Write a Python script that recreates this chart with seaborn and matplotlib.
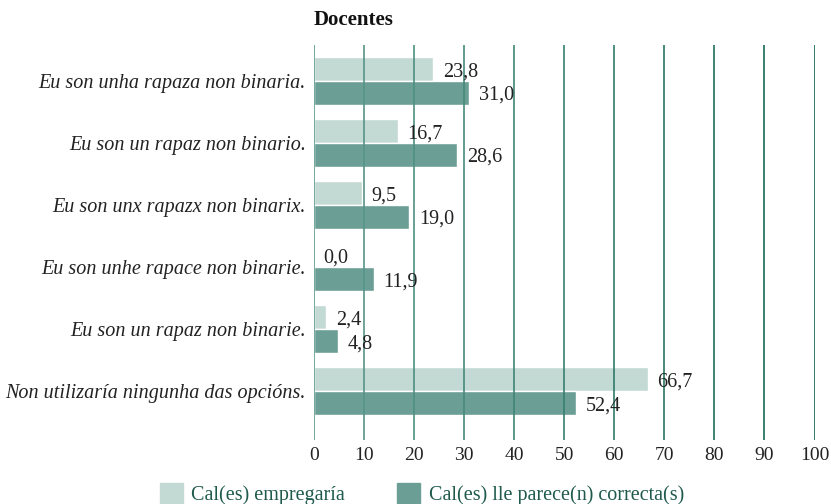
import numpy as np
import pandas as pd
import seaborn as sns
import matplotlib.pyplot as plt
from matplotlib.colors import LinearSegmentedColormap

# datos
categorias = ['Eu son unha rapaza non binaria.',
              'Eu son un rapaz non binario.',
              'Eu son unx rapazx non binarix.',
              'Eu son unhe rapace non binarie.',
              'Eu son un rapaz non binarie.',
              'Non utilizaría ningunha das opcións.']
series = ['Cal(es) empregaría', 'Cal(es) lle parece(n) correcta(s)']
empregaria = [23.8, 16.7, 9.5, 0.0, 2.4, 66.7]
correcta = [31.0, 28.6, 19.0, 11.9, 4.8, 52.4]
xticks = [0, 10, 20, 30, 40, 50, 60, 70, 80, 90, 100]

df = pd.DataFrame({
    'categoria': categorias * 2,
    'serie': [series[0]] * len(categorias) + [series[1]] * len(categorias),
    'valor': empregaria + correcta,
})

sns.set_theme(style='white')
plt.rcParams['font.family'] = ['Liberation Serif', 'DejaVu Serif']

cores = ['#c3d9d3', '#6b9e95']

fig = plt.figure(figsize=(8.31, 5.04), dpi=100)
ax = fig.add_axes([314 / 831, 1 - 440 / 504, 500.5 / 831, 395 / 504])

sns.barplot(data=df, y='categoria', x='valor', hue='serie', order=categorias,
            hue_order=series, palette=cores, width=0.76, saturation=1,
            orient='h', ax=ax, legend=False)

ax.set_xlim(0, 100)
ax.set_ylim(5.79, -0.58)
ax.set_xlabel('')
ax.set_ylabel('')
for s in ax.spines.values():
    s.set_visible(False)

# liñas verticais, de verde claro a verde escuro
cmap = LinearSegmentedColormap.from_list('g', ['#5f998d', '#0f6652'])
for i, t in enumerate(xticks):
    ax.axvline(t, color=cmap(i / (len(xticks) - 1)), lw=1.2, zorder=3)

ax.set_xticks(xticks)
ax.set_xticklabels([str(t) for t in xticks], fontsize=14, color='#222222')
ax.tick_params(axis='x', length=0, pad=5)
ax.tick_params(axis='y', length=0, pad=6)
for lab in ax.get_yticklabels():
    lab.set_fontstyle('italic')
    lab.set_fontsize(14.5)
    lab.set_color('#222222')

for cont in ax.containers:
    vals = [b.get_width() for b in cont]
    anns = ax.bar_label(cont, labels=[f'{v:.1f}'.replace('.', ',') for v in vals],
                        padding=7, fontsize=14.5, color='#222222', zorder=4)
    for a in anns:
        a.xyann = (7, -2)

fig.text(314 / 831, 1 - 20 / 504, 'Docentes', fontsize=15, fontweight='bold',
         ha='left', va='center', color='#111111')

handles = [plt.Rectangle((0, 0), 1, 1, color=c) for c in cores]
fig.legend(handles, series, loc='center left', bbox_to_anchor=(160 / 831, 1 - 494 / 504),
           ncol=2, frameon=False, fontsize=14.5, labelcolor='#1f5a4d',
           handlelength=1.15, handleheight=1.1, handletextpad=0.4,
           columnspacing=2.6, borderpad=0, borderaxespad=0)

fig.savefig('out.png', dpi=100)
